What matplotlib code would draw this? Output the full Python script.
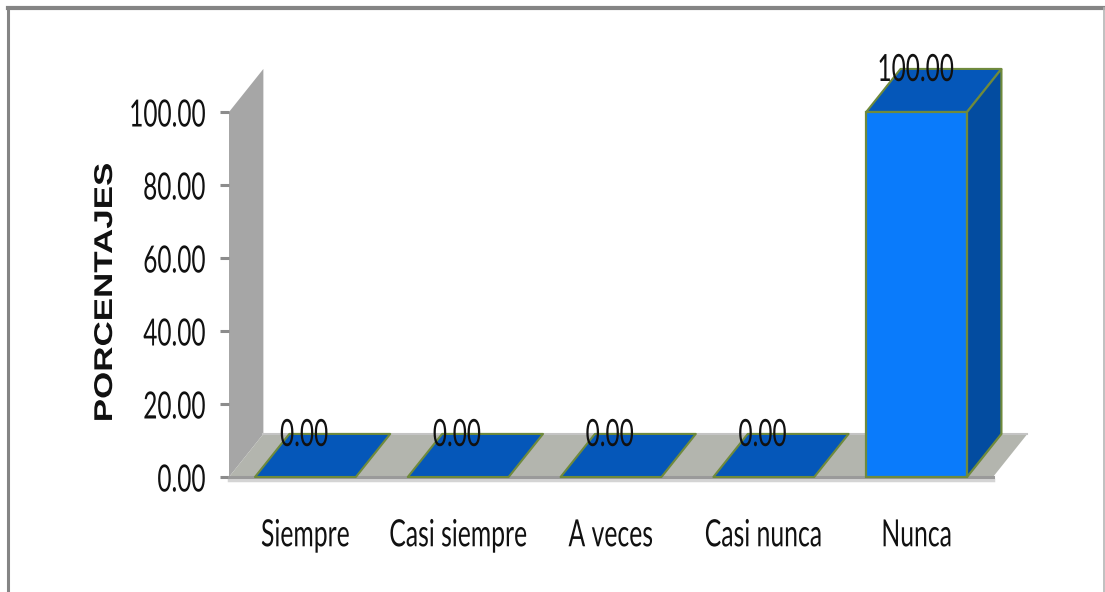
import matplotlib
matplotlib.use("Agg")
import matplotlib.pyplot as plt
import matplotlib.patheffects as pe
from matplotlib.patches import Polygon
from matplotlib.lines import Line2D
from matplotlib.transforms import Affine2D

categories = ["Siempre", "Casi siempre", "A veces", "Casi nunca", "Nunca"]
values = [0.00, 0.00, 0.00, 0.00, 100.00]
y_ticks = [0, 20, 40, 60, 80, 100]

W, H = 1105, 592
plt.rcParams['font.family'] = ['Lato', 'DejaVu Sans']


class Squeeze(pe.AbstractPathEffect):
    # the reference text is squashed sideways, no narrow font here so scale the glyph path
    def __init__(self, sx=1.0, sy=1.0, anchor="center"):
        super().__init__()
        self.sx = sx
        self.sy = sy
        self.anchor = anchor

    def draw_path(self, renderer, gc, tpath, affine, rgbFace=None):
        box = tpath.transformed(affine).get_extents()
        ax_ = box.x1 if self.anchor == "right" else (box.x0 + box.x1) / 2
        ay_ = (box.y0 + box.y1) / 2
        t = Affine2D().translate(-ax_, -ay_).scale(self.sx, self.sy).translate(ax_, ay_)
        renderer.draw_path(gc, tpath, affine + t, rgbFace)


fig = plt.figure(figsize=(W / 100, H / 100), dpi=100)
ax = fig.add_axes([229 / W, 1 - 477 / H, (993 - 229) / W, (477 - 112) / H])
ax.set_xlim(-0.5, 4.5)
ax.set_ylim(0, 100)
ax.patch.set_visible(False)

# depth of the fake 3d box, in data units
dx = 0.225
dy = 11.8
bar_w = 0.66

front = "#0A7BFB"
top = "#0557B9"
side = "#034CA0"
edge = "#6F8A3C"

# frame of the picture
fig.add_artist(Line2D([8 / W, 8 / W], [0, 1 - 8 / H], color="#858585", lw=2.2))
fig.add_artist(Line2D([8 / W, 1], [1 - 8 / H, 1 - 8 / H], color="#858585", lw=3))
fig.add_artist(Line2D([1104 / W, 1104 / W], [0, 1 - 8 / H], color="#B5B5B5", lw=1.2))

# wall and floor
ax.add_patch(Polygon([(-0.5, 0), (-0.5 + dx, dy), (-0.5 + dx, 100 + dy), (-0.5, 100)],
                     fc="#A6A6A6", ec="none", clip_on=False, zorder=1))
ax.add_patch(Polygon([(-0.5, 0), (-0.5 + dx, dy), (4.5 + dx, dy), (4.5, 0)],
                     fc="#B3B5AE", ec="none", clip_on=False, zorder=1))
ax.plot([-0.5 + dx, 4.5 + dx], [dy, dy], color="#C4C4C4", lw=1.5, clip_on=False, zorder=1)
ax.plot([-0.5, 4.5], [-0.9, -0.9], color="#D4D4D4", lw=2.5, clip_on=False, zorder=1)

for i, v in enumerate(values):
    l = i - bar_w / 2
    r = i + bar_w / 2
    ax.add_patch(Polygon([(l, v), (l + dx, v + dy), (r + dx, v + dy), (r, v)],
                         fc=top, ec=edge, lw=1.5, clip_on=False, zorder=3, joinstyle="round"))
    if v > 0:
        ax.bar(i, v, width=bar_w, color=front, edgecolor=edge, linewidth=1.6, zorder=3, clip_on=False)
        ax.add_patch(Polygon([(r, 0), (r + dx, dy), (r + dx, v + dy), (r, v)],
                             fc=side, ec=edge, lw=1.6, clip_on=False, zorder=3))
    ax.text(i - 0.008, v + 8.5, f"{v:.2f}", ha="center", va="baseline", fontsize=27,
            color="#111111", zorder=5, clip_on=False, path_effects=[Squeeze(sx=0.65)])

for s in ["top", "right", "left"]:
    ax.spines[s].set_visible(False)
ax.spines["bottom"].set_color("#9A9A9A")
ax.spines["bottom"].set_linewidth(2.2)
ax.spines["bottom"].set_zorder(2)

ax.set_yticks(y_ticks)
ax.set_yticklabels([f"{t:.2f}" for t in y_ticks], fontsize=27, color="#111111")
for lab in ax.get_yticklabels():
    lab.set_path_effects([Squeeze(sx=0.65, anchor="right")])
ax.tick_params(axis="y", length=6.5, width=2.2, color="#8C8C8C", pad=10)
ax.set_xticks(range(len(categories)))
ax.set_xticklabels(categories, fontsize=27, color="#111111")
for lab in ax.get_xticklabels():
    lab.set_path_effects([Squeeze(sx=0.66)])
ax.tick_params(axis="x", length=0, pad=29)

fig.text(105 / W, 1 - 292 / H, "PORCENTAJES", rotation=90, ha="center", va="center",
         fontsize=18.5, fontweight="bold", family=["Liberation Sans", "DejaVu Sans"], color="#111111",
         path_effects=[Squeeze(sy=1.36)])

fig.savefig("out.png", dpi=100)
